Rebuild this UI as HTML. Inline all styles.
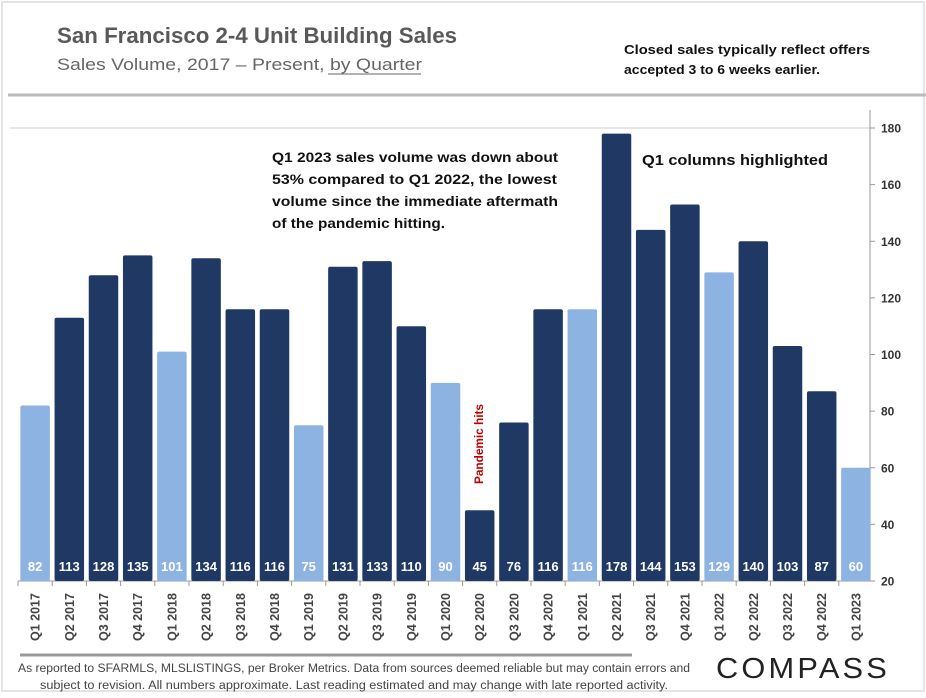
<!DOCTYPE html>
<html><head><meta charset="utf-8"><style>
body{margin:0;background:#fff;font-family:"Liberation Sans",sans-serif;}
svg text{font-family:"Liberation Sans",sans-serif;}
</style></head><body>
<svg id="chart" width="926" height="693" viewBox="0 0 926 693" xmlns="http://www.w3.org/2000/svg">
<rect x="0" y="0" width="926" height="693" fill="#fff"/>
<rect x="2" y="2" width="922" height="689" fill="none" stroke="#e4e4e4" stroke-width="2"/>
<text x="57" y="43" font-size="22" font-weight="bold" fill="#595959" textLength="400" lengthAdjust="spacingAndGlyphs">San Francisco 2-4 Unit Building Sales</text>
<text x="57" y="70" font-size="17" fill="#666" textLength="365" lengthAdjust="spacingAndGlyphs">Sales Volume, 2017 – Present, by Quarter</text>
<line x1="328" y1="74" x2="421" y2="74" stroke="#666" stroke-width="1"/>
<text x="624" y="54" font-size="13" font-weight="bold" fill="#111" textLength="246" lengthAdjust="spacingAndGlyphs">Closed sales typically reflect offers</text>
<text x="624" y="74" font-size="13" font-weight="bold" fill="#111" textLength="196" lengthAdjust="spacingAndGlyphs">accepted 3 to 6 weeks earlier.</text>
<line x1="8" y1="95" x2="926" y2="95" stroke="#bbb" stroke-width="3"/>
<g id="plot"></g>
<text font-size="14" font-weight="bold" fill="#111">
<tspan x="272" y="162" textLength="286" lengthAdjust="spacingAndGlyphs">Q1 2023 sales volume was down about</tspan>
<tspan x="272" y="184" textLength="285" lengthAdjust="spacingAndGlyphs">53% compared to Q1 2022, the lowest</tspan>
<tspan x="272" y="206" textLength="286" lengthAdjust="spacingAndGlyphs">volume since the immediate aftermath</tspan>
<tspan x="272" y="228" textLength="173" lengthAdjust="spacingAndGlyphs">of the pandemic hitting.</tspan>
</text>
<text x="642" y="165" font-size="15" font-weight="bold" fill="#111" textLength="186" lengthAdjust="spacingAndGlyphs">Q1 columns highlighted</text>
<text transform="translate(483,484) rotate(-90)" font-size="12" font-weight="bold" fill="#c00000" textLength="80" lengthAdjust="spacingAndGlyphs">Pandemic hits</text>
<line x1="20" y1="655" x2="632" y2="655" stroke="#999" stroke-width="3"/>
<text font-size="11.5" fill="#444">
<tspan x="18" y="672" textLength="672" lengthAdjust="spacingAndGlyphs">As reported to SFARMLS, MLSLISTINGS, per Broker Metrics. Data from sources deemed reliable but may contain errors and</tspan>
<tspan x="40" y="689" textLength="628" lengthAdjust="spacingAndGlyphs">subject to revision. All numbers approximate.  Last reading estimated and may change with late reported activity.</tspan>
</text>
<text x="716" y="678" font-size="29" fill="#222" letter-spacing="3" textLength="174" lengthAdjust="spacingAndGlyphs">COMPASS</text>
</svg>
<script>
const categories=["Q1 2017","Q2 2017","Q3 2017","Q4 2017","Q1 2018","Q2 2018","Q3 2018","Q4 2018","Q1 2019","Q2 2019","Q3 2019","Q4 2019","Q1 2020","Q2 2020","Q3 2020","Q4 2020","Q1 2021","Q2 2021","Q3 2021","Q4 2021","Q1 2022","Q2 2022","Q3 2022","Q4 2022","Q1 2023"];
const values=[82,113,128,135,101,134,116,116,75,131,133,110,90,45,76,116,116,178,144,153,129,140,103,87,60];
const yTicks=[20,40,60,80,100,120,140,160,180];
const NS="http://www.w3.org/2000/svg";
const plot=document.getElementById('plot');
const x0=18,step=34.2,bw=29.5,yBase=581,yTop=128;
function y(v){return yBase-(v-20)*(yBase-yTop)/160;}
function xc(i){return x0+step*i+step/2;}
function mk(tag,attrs,txt){const e=document.createElementNS(NS,tag);for(const k in attrs)e.setAttribute(k,attrs[k]);if(txt!=null)e.textContent=txt;plot.appendChild(e);return e;}
let g=mk('line',{x1:10,y1:y(180),x2:870,y2:y(180),stroke:'#ccc','stroke-width':1});


let ax=mk('line',{x1:870,y1:110,x2:870,y2:yBase,stroke:'#999','stroke-width':1});


let bx=mk('line',{x1:18,y1:yBase,x2:870,y2:yBase,stroke:'#999','stroke-width':1});


yTicks.forEach(t=>{
  const tk=mk('line',{x1:870,y1:y(t),x2:875,y2:y(t),stroke:'#999'});
  
  
  const tl=mk('text',{x:881,y:y(t)+4.5,'font-size':12,'font-weight':'bold',fill:'#333'},t);
  
  
});
values.forEach((v,i)=>{
  const q1=categories[i].startsWith('Q1');
  const b=mk('rect',{x:xc(i)-bw/2,y:y(v),width:bw,height:yBase-y(v),fill:q1?'#8db3e2':'#1f3864',rx:2});
  
  
  const vl=mk('text',{x:xc(i),y:571,'font-size':13,'font-weight':'bold',fill:'#fff','text-anchor':'middle'},v);
  
  
  const tk=mk('line',{x1:x0+step*i,y1:yBase,x2:x0+step*i,y2:yBase+5,stroke:'#999'});
  
  
  const cl=mk('text',{transform:`translate(${xc(i)+4.5},${641}) rotate(-90)`,'font-size':12.5,'font-weight':'bold',fill:'#444','text-anchor':'start'},categories[i]);
  
  
});
</script>
</body></html>
